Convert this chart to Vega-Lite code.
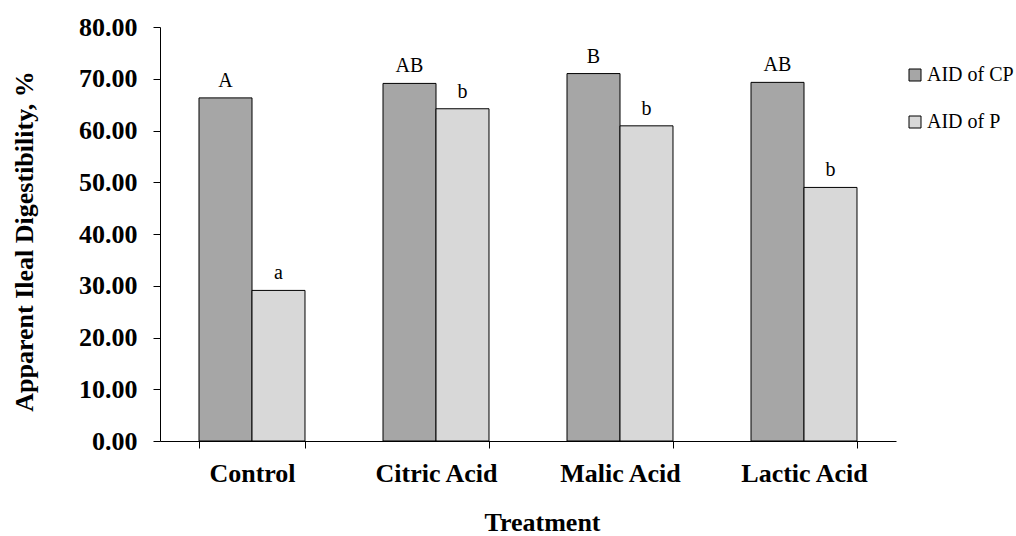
{
  "$schema": "https://vega.github.io/schema/vega-lite/v6.json",
  "autosize": "none",
  "width": 736,
  "height": 414,
  "padding": {"left": 160, "top": 27, "right": 120, "bottom": 95},
  "background": "white",
  "config": {
    "view": {"stroke": null},
    "font": "Liberation Serif",
    "legend": {"labelFont": "Liberation Serif", "labelFontSize": 20, "labelColor": "black"},
    "axis": {"labelColor": "black", "titleColor": "black", "domainColor": "black", "tickColor": "black", "grid": false}
  },
  "data": {
    "values": [
      {"treatment": "Control", "measure": "AID of CP", "value": 66.3, "letter": "A"},
      {"treatment": "Control", "measure": "AID of P", "value": 29.1, "letter": "a"},
      {"treatment": "Citric Acid", "measure": "AID of CP", "value": 69.1, "letter": "AB"},
      {"treatment": "Citric Acid", "measure": "AID of P", "value": 64.2, "letter": "b"},
      {"treatment": "Malic Acid", "measure": "AID of CP", "value": 71.0, "letter": "B"},
      {"treatment": "Malic Acid", "measure": "AID of P", "value": 60.9, "letter": "b"},
      {"treatment": "Lactic Acid", "measure": "AID of CP", "value": 69.3, "letter": "AB"},
      {"treatment": "Lactic Acid", "measure": "AID of P", "value": 49.0, "letter": "b"}
    ]
  },
  "encoding": {
    "x": {
      "field": "treatment", "type": "nominal", "sort": ["Control", "Citric Acid", "Malic Acid", "Lactic Acid"],
      "scale": {"paddingInner": 0.424, "paddingOuter": 0.212},
      "axis": {
        "title": "Treatment", "labelAngle": 0, "tickBand": "extent", "tickSize": 7, "labelPadding": 12,
        "labelFont": "Liberation Serif", "labelFontSize": 26, "labelFontWeight": "bold",
        "titleFont": "Liberation Serif", "titleFontSize": 26, "titleFontWeight": "bold",
        "titleX": 382, "titleY": 89, "titleBaseline": "alphabetic", "titleAlign": "center"
      }
    },
    "xOffset": {"field": "measure", "type": "nominal", "sort": ["AID of CP", "AID of P"], "scale": {"paddingInner": 0, "paddingOuter": 0}},
    "y": {
      "field": "value", "type": "quantitative",
      "scale": {"domain": [0, 80], "nice": false},
      "axis": {
        "title": "Apparent Ileal Digestibility, %", "values": [0, 10, 20, 30, 40, 50, 60, 70, 80], "format": ".2f",
        "tickSize": 7, "labelPadding": 16,
        "labelFont": "Liberation Serif", "labelFontSize": 26, "labelFontWeight": "bold",
        "titleFont": "Liberation Serif", "titleFontSize": 26, "titleFontWeight": "bold",
        "titleX": -128, "titleY": 214, "titleBaseline": "alphabetic", "titleAngle": -90, "titleAlign": "center"
      }
    }
  },
  "layer": [
    {
      "mark": {"type": "bar", "stroke": "black", "strokeWidth": 1},
      "encoding": {
        "color": {
          "field": "measure", "type": "nominal",
          "scale": {"domain": ["AID of CP", "AID of P"], "range": ["#a6a6a6", "#d8d8d8"]},
          "legend": {
            "title": null, "orient": "none", "legendX": 745, "legendY": 38, "padding": 0,
            "symbolType": "square", "symbolSize": 144, "symbolStrokeColor": "black", "symbolStrokeWidth": 1,
            "labelFont": "Liberation Serif", "labelFontSize": 20, "labelColor": "black", "labelOffset": 2,
            "rowPadding": 27
          }
        }
      }
    },
    {
      "mark": {"type": "text", "dy": -11, "baseline": "alphabetic", "font": "Liberation Serif", "fontSize": 20, "color": "black"},
      "encoding": {"text": {"field": "letter"}}
    }
  ]
}
